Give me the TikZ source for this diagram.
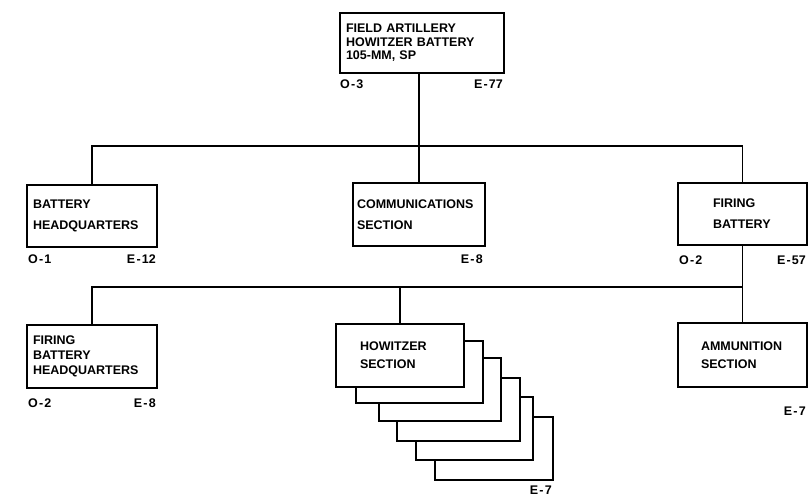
\documentclass[tikz,border=0pt]{standalone}
\usepackage{fontspec}
\setmainfont{Liberation Sans}
\newcommand\lettering[1]{\bfseries\fontsize{12.5}{#1}\selectfont}
\newcommand\dsh{\kern1.2pt-\kern1.2pt}
\begin{document}
\begin{tikzpicture}[x=1pt,y=-1pt,
  box/.style={draw, line width=2.2pt, fill=white, inner xsep=0pt, inner ysep=0pt, align=left},
  conn/.style={line width=1.8pt},
  lab/.style={font=\lettering{14}, inner sep=0pt}]
\useasboundingbox (0,0) rectangle (811,501);
% top
\node[box, font=\lettering{13.5}, minimum width=164pt, minimum height=60pt, text width=152pt] (top) at (422,43) {FIELD ARTILLERY\\HOWITZER BATTERY\\105-MM, SP};
\node[lab, anchor=base west] (topo) at (340,88) {O\dsh3};
\node[lab, anchor=base east] (tope) at (503,88) {E\dsh77};
% second row
\node[box, font=\lettering{21}, minimum width=130pt, minimum height=62pt, text width=118pt] (bhq) at (92,216) {BATTERY\\HEADQUARTERS};
\node[lab, anchor=base west] (bhqo) at (28,263) {O\dsh1};
\node[lab, anchor=base east] (bhqe) at (156,263) {E\dsh12};
\node[box, font=\lettering{21}, minimum width=132pt, minimum height=63pt, text width=124pt] (comm) at (419,214.5) {COMMUNICATIONS\\SECTION};
\node[lab, anchor=base east] (comme) at (483,263) {E\dsh8};
\node[box, font=\lettering{21}, minimum width=129pt, minimum height=62pt, text width=59pt] (fb) at (742.5,214) {FIRING\\BATTERY};
\node[lab, anchor=base west] (fbo) at (679,264) {O\dsh2};
\node[lab, anchor=base east] (fbe) at (806,264) {E\dsh57};
% third row
\node[box, font=\lettering{15}, minimum width=130pt, minimum height=63pt, text width=118pt] (fbhq) at (92,356.5) {FIRING\\BATTERY\\HEADQUARTERS};
\node[lab, anchor=base west] (fbhqo) at (28,407) {O\dsh2};
\node[lab, anchor=base east] (fbhqe) at (156,407) {E\dsh8};
% howitzer stack (back to front)
\node[box, minimum width=118pt, minimum height=63pt] (h5) at (494,448.5) {};
\node[box, minimum width=117pt, minimum height=63pt] (h4) at (474.5,428.5) {};
\node[box, minimum width=123pt, minimum height=63pt] (h3) at (458.5,409.5) {};
\node[box, minimum width=122pt, minimum height=63pt] (h2) at (440,389.5) {};
\node[box, minimum width=127pt, minimum height=62pt] (h1) at (419.5,372) {};
\node[box, font=\lettering{18}, minimum width=128pt, minimum height=63pt, text width=80pt] (h0) at (400,355.5) {HOWITZER\\SECTION};
\node[lab, anchor=base east] (h5e) at (552,494) {E\dsh7};
\node[box, font=\lettering{18}, minimum width=129pt, minimum height=64pt, text width=83pt] (ammo) at (742.5,355) {AMMUNITION\\SECTION};
\node[lab, anchor=base east] (ammoe) at (806,415) {E\dsh7};
% connectors
\draw[conn] (comm.north |- top.south) -- (comm.north);
\draw[conn] (bhq.north) -- ++(0,-38) coordinate (b1l) -| (fb.north);
\draw[conn] (fb.south) -- (ammo.north);
\draw[conn] (fbhq.north) -- ++(0,-37) coordinate (b2l) -| (ammo.north);
\draw[conn] (h0.north) -- (h0.north |- b2l);
\end{tikzpicture}
\end{document}
